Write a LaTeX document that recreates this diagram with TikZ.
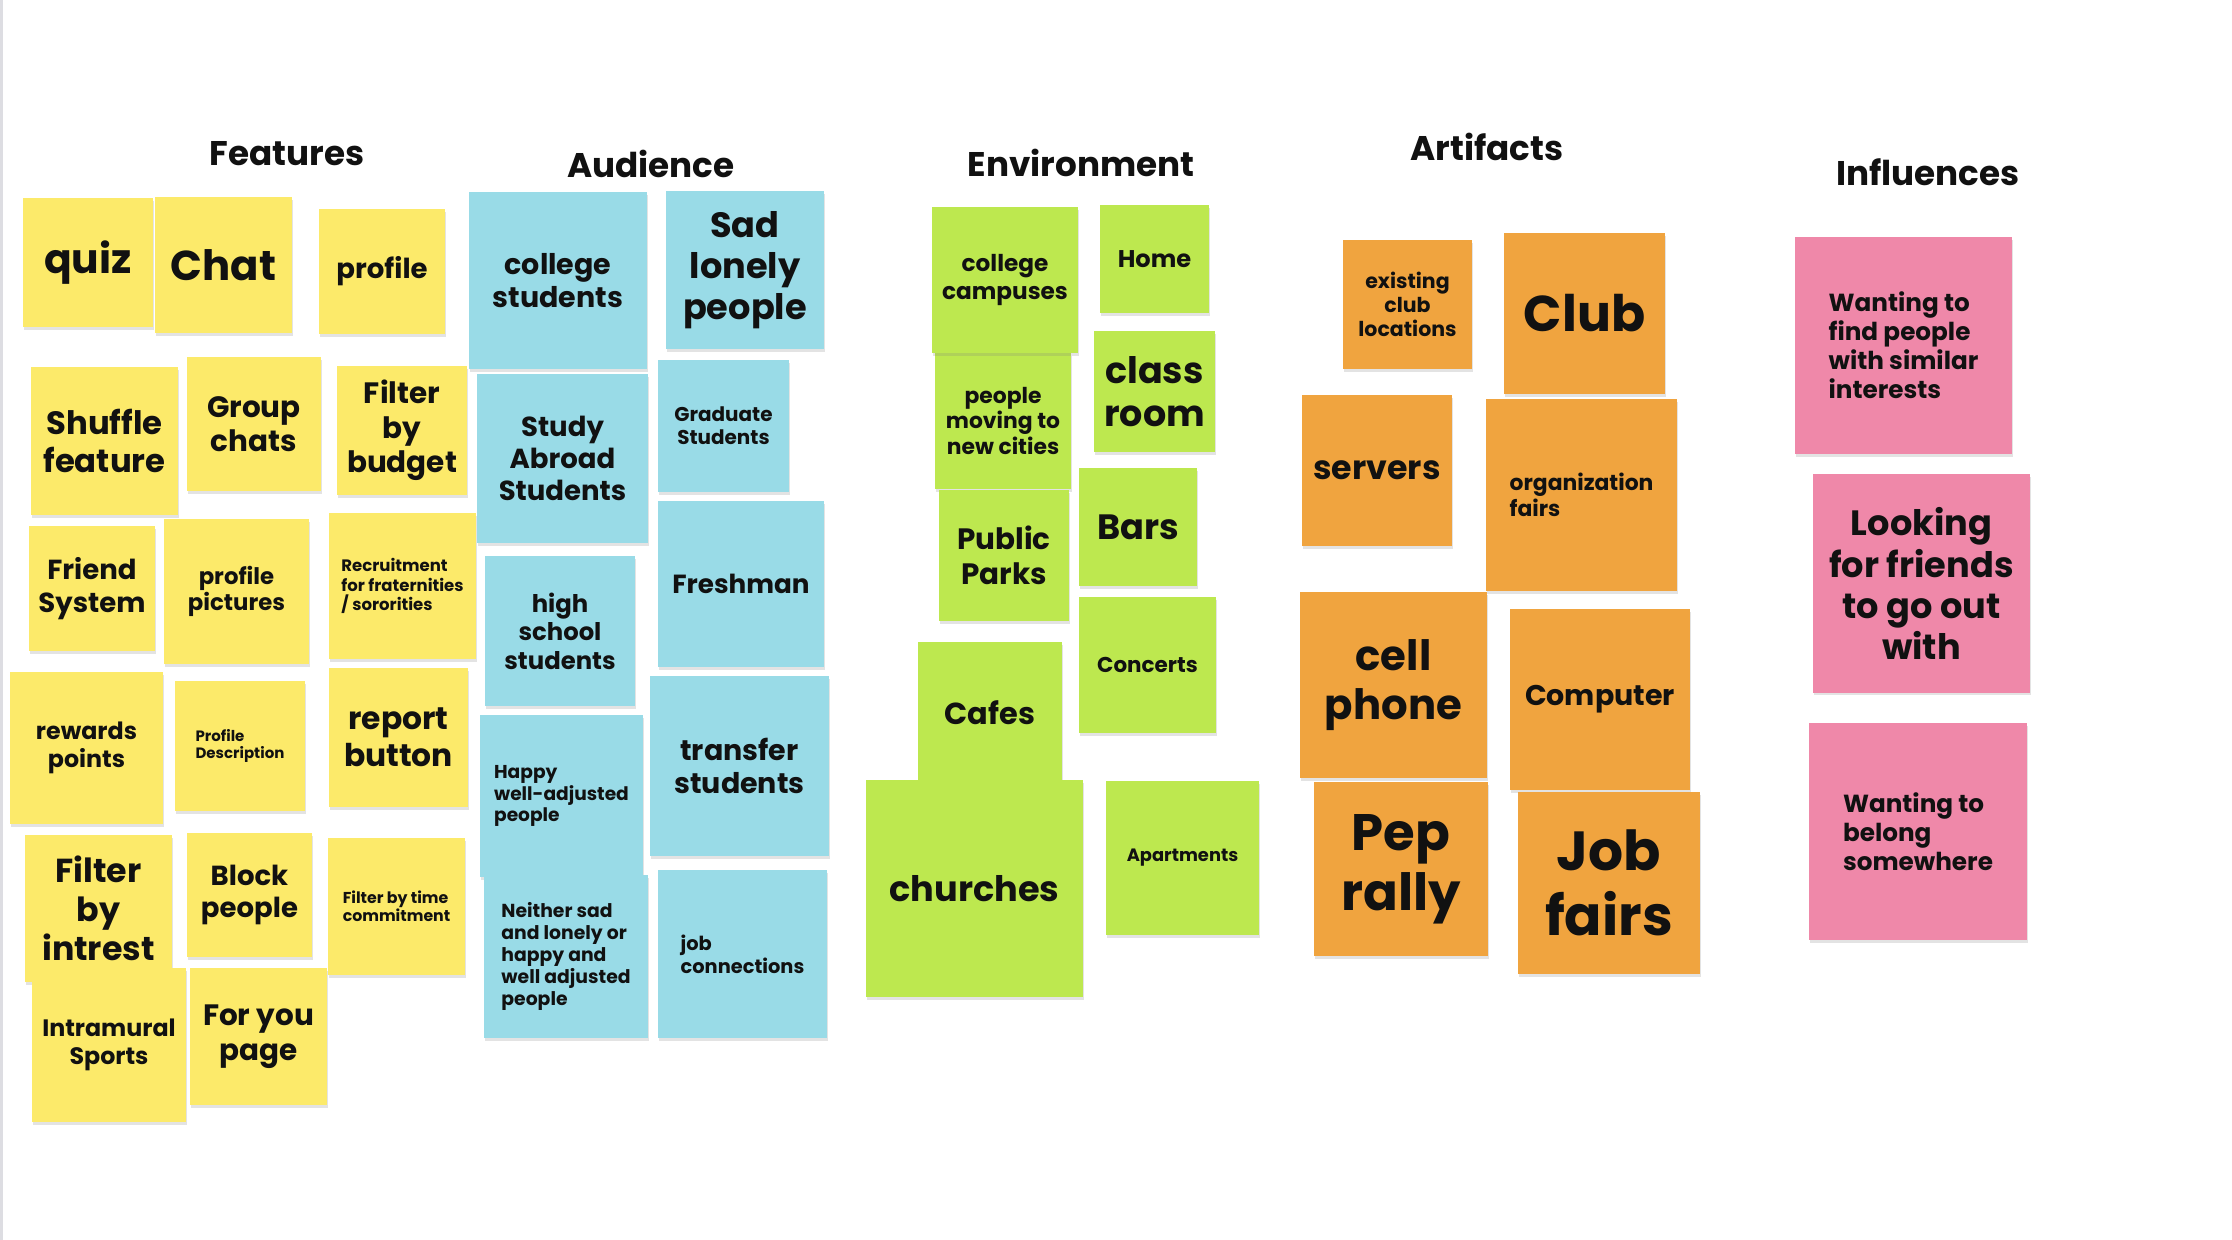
\documentclass[tikz,border=0pt]{standalone}
\usepackage{fontspec}
\setmainfont{Poppins}
\usetikzlibrary{shadows}
\definecolor{Ink}{HTML}{111111}
\definecolor{EdgeGray}{HTML}{DDDDE2}
\definecolor{NoteYellow}{HTML}{FCEA6A}
\definecolor{NoteBlue}{HTML}{99DBE7}
\definecolor{NoteGreen}{HTML}{BDE84F}
\definecolor{NoteOrange}{HTML}{F0A43F}
\definecolor{NotePink}{HTML}{EF88A9}
\newcommand{\fz}[1]{\fontsize{\fpeval{.95*#1}}{\fpeval{1.17*.95*#1}}\selectfont\bfseries}
\tikzset{
  note/.style={rectangle,inner sep=0pt,align=center,text=Ink,
    drop shadow={shadow xshift=.4pt,shadow yshift=-1.4pt,opacity=.22}},
  wh/.style 2 args={minimum width=#1*.5pt,minimum height=#2*.5pt},
  fs/.style={font=\fz{#1}},
  feat/.style={note,fill=NoteYellow},
  aud/.style={note,fill=NoteBlue},
  env/.style={note,fill=NoteGreen},
  art/.style={note,fill=NoteOrange},
  infl/.style={note,fill=NotePink},
  heading/.style={font=\fz{18},text=Ink,inner sep=0pt}
}

\begin{document}
\begin{tikzpicture}[x=.5pt,y=-.5pt]
  \useasboundingbox (0,0) rectangle (2232,1240);
  \fill[white] (0,0) rectangle (2232,1240);
  \fill[EdgeGray] (0,0) rectangle (3,1240);
  % headings
  \node[heading] (hF) at (287,154) {Features};
  \node[heading] (hA) at (651,164) {Audience};
  \node[heading] (hE) at (1081,163) {Environment};
  \node[heading] (hR) at (1487,147) {Artifacts};
  \node[heading] (hI) at (1928,172) {Influences};
  % features
  \node[feat,wh={130}{129},fs=21.5] (f1) at (88,262.5) {quiz};
  \node[feat,wh={137}{136},fs=22] (f2) at (223.5,265) {Chat};
  \node[feat,wh={126}{125},fs=14.5] (f3) at (382,271.5) {profile};
  \node[feat,wh={147}{148},fs=17] (f4) at (104.5,441) {Shuffle\\feature};
  \node[feat,wh={134}{134},fs=15.5] (f5) at (254,424) {Group\\chats};
  \node[feat,wh={130}{129},fs=15.5] (f6) at (402,430.5) {Filter\\by\\budget};
  \node[feat,wh={126}{125},fs=14.5] (f7) at (92,588.5) {Friend\\System};
  \node[feat,wh={145}{145},fs=12] (f8) at (236.5,591.5) {profile\\pictures};
  \node[feat,wh={147}{146},fs=8.7,align=left] (f9) at (402.5,586) {Recruitment\\for fraternities\\/ sororities};
  \node[feat,wh={153}{152},fs=12.5] (f10) at (86.5,748) {rewards\\points};
  \node[feat,wh={130}{130},fs=7.9,align=left] (f11) at (240,746) {Profile\\Description};
  \node[feat,wh={139}{139},fs=16.5] (f12) at (398.5,737.5) {report\\button};
  \node[feat,wh={147}{147},fs=17.5] (f13) at (98.5,908.5) {Filter\\by\\intrest};
  \node[feat,wh={125}{124},fs=14.5] (f14) at (249.5,895) {Block\\people};
  \node[feat,wh={137}{137},fs=8.3,align=left] (f15) at (396.5,906.5) {Filter by time\\commitment};
  \node[feat,wh={154}{154},fs=12.5] (f16) at (109,1045) {Intramural\\Sports};
  \node[feat,wh={137}{137},fs=15.5] (f17) at (258.5,1036.5) {For you\\page};
  % audience
  \node[aud,wh={178}{177},fs=15] (a1) at (558,280.5) {college\\students};
  \node[aud,wh={158}{158},fs=18.5] (a2) at (745,270) {Sad\\lonely\\people};
  \node[aud,wh={171}{169},fs=14.5] (a3) at (562.5,458.5) {Study\\Abroad\\Students};
  \node[aud,wh={131}{132},fs=10.5] (a4) at (723.5,426) {Graduate\\Students};
  \node[aud,wh={166}{166},fs=13.8] (a5) at (741,584) {Freshman};
  \node[aud,wh={150}{150},fs=12.8] (a6) at (560,631) {high\\school\\students};
  \node[aud,wh={163}{162},fs=9.8,align=left] (a7) at (561.5,796) {Happy\\well-adjusted\\people};
  \node[aud,wh={179}{180},fs=15] (a8) at (739.5,766) {transfer\\students};
  \node[aud,wh={164}{163},fs=9.9,align=left] (a9) at (566,956.5) {Neither sad\\and lonely or\\happy and\\well adjusted\\people};
  \node[aud,wh={169}{168},fs=10.2,align=left] (a10) at (742.5,954) {job\\connections};
  % environment
  \node[env,wh={136}{136},fs=11.5] (e3) at (1003,421) {people\\moving to\\new cities};
  \node[env,wh={146}{146},fs=12.2] (e1) at (1005,280) {college\\campuses};
  \node[env,wh={109}{108},fs=12.7] (e2) at (1154.5,259) {Home};
  \node[env,wh={121}{121},fs=19.2] (e4) at (1154.5,391.5) {class\\room};
  \node[env,wh={118}{118},fs=18.5] (e5) at (1138,527) {Bars};
  \node[env,wh={130}{131},fs=15.5] (e6) at (1004,555.5) {Public\\Parks};
  \node[env,wh={137}{136},fs=11.3] (e7) at (1147.5,665) {Concerts};
  \node[env,wh={144}{142},fs=16] (e8) at (990,713) {Cafes};
  \node[env,wh={217}{217},fs=18.5] (e9) at (974.5,888.5) {churches};
  \node[env,wh={153}{154},fs=9.4] (e10) at (1182.5,858) {Apartments};
  % artifacts
  \node[art,wh={129}{129},fs=10.8] (r1) at (1407.5,304.5) {existing\\club\\locations};
  \node[art,wh={161}{161},fs=26.5] (r2) at (1584.5,313.5) {Club};
  \node[art,wh={150}{151},fs=17.5] (r3) at (1377,470.5) {servers};
  \node[art,wh={191}{192},fs=11.5,align=left] (r4) at (1581.5,495) {organization\\fairs};
  \node[art,wh={187}{186},fs=22] (r5) at (1393.5,685) {cell\\phone};
  \node[art,wh={180}{181},fs=15] (r6) at (1600,699.5) {Computer};
  \node[art,wh={174}{174},fs=27] (r7) at (1401,869) {Pep\\rally};
  \node[art,wh={182}{182},fs=29] (r8) at (1609,883) {Job\\fairs};
  % influences
  \node[infl,wh={217}{217},fs=13,align=left] (i1) at (1903.5,345.5) {Wanting to\\find people\\with similar\\interests};
  \node[infl,wh={217}{218},fs=18.5] (i2) at (1921.5,583.5) {Looking\\for friends\\to go out\\with};
  \node[infl,wh={218}{217},fs=13,align=left] (i3) at (1918,831.5) {Wanting to\\belong\\somewhere};
\end{tikzpicture}
\end{document}
